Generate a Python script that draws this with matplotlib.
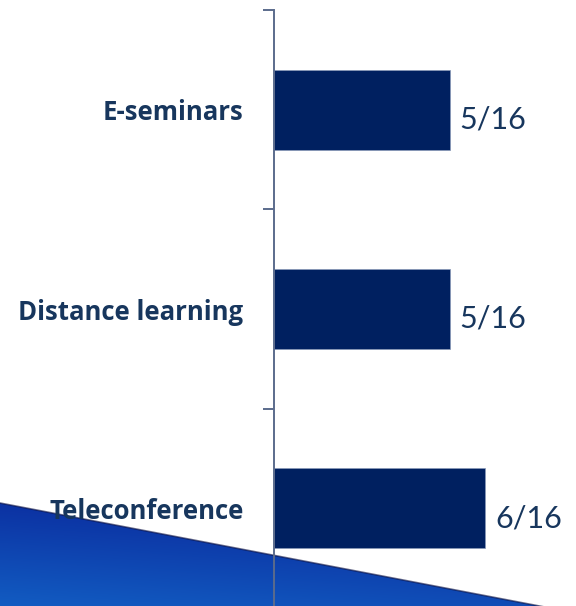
import numpy as np
import matplotlib
matplotlib.use("Agg")
import matplotlib.pyplot as plt
from matplotlib.patches import Polygon

# data
categories = ["Teleconference", "Distance learning", "E-seminars"]
counts = [6, 5, 5]
total = 16
value_labels = ["%d/%d" % (c, total) for c in counts]

NAVY = "#002060"
TEXT = "#17365d"
AXIS = "#5b6b8c"

fig = plt.figure(figsize=(5.76, 6.06), dpi=100)

# slide decoration: blue wedge in the bottom-left corner
bg = fig.add_axes([0, 0, 1, 1], zorder=0)
bg.set_xlim(0, 576)
bg.set_ylim(606, 0)
bg.axis("off")
yy = np.linspace(0, 1, 200)[:, None]
xx = np.linspace(0, 1, 200)[None, :]
c_top = np.array([0.03, 0.09, 0.56])
c_bot = np.array([0.07, 0.36, 0.76])
t = np.clip(0.75 * yy + 0.25 * (1 - xx), 0, 1)[..., None]
grad = c_top * (1 - t) + c_bot * t
img = bg.imshow(grad, extent=[0, 576, 606, 480], aspect="auto", zorder=0)
wedge = Polygon([(0, 503), (576, 613), (576, 620), (0, 620)], closed=True,
                transform=bg.transData, facecolor="none", edgecolor="none")
bg.add_patch(wedge)
img.set_clip_path(wedge)
bg.plot([0, 576], [503, 613], color="#0a0f40", lw=1.2, alpha=0.6, zorder=1)

# main chart
ax = fig.add_axes([274 / 576, -2 / 606, 302 / 576, 598 / 606], zorder=1)
ax.patch.set_alpha(0)
y = np.arange(len(categories))
bars = ax.barh(y, counts, height=0.4, color=NAVY, edgecolor="#8a9ab8", linewidth=0.5)
ax.set_xlim(0, 302 / 35.2)
ax.set_ylim(-0.5, len(categories) - 0.5)

for rect, lab in zip(bars, value_labels):
    ax.annotate(lab, (rect.get_width(), rect.get_y() + rect.get_height() / 2),
                xytext=(7, -7), textcoords="offset points", ha="left", va="center",
                fontsize=22, family="Lato", color=TEXT)

for s in ["top", "right", "bottom"]:
    ax.spines[s].set_visible(False)
ax.spines["left"].set_color(AXIS)
ax.spines["left"].set_linewidth(1.4)
ax.set_xticks([])

ax.set_yticks(np.arange(-0.5, len(categories), 1.0))
ax.set_yticklabels([])
ax.tick_params(axis="y", which="major", length=8, width=1.4, color=AXIS, direction="out")
ax.set_yticks(y, minor=True)
ax.set_yticklabels(categories, minor=True, fontsize=18.5, fontweight="bold",
                   family="Open Sans", color=TEXT)
ax.tick_params(axis="y", which="minor", length=0, pad=22)

plt.savefig("out.png", dpi=100)
